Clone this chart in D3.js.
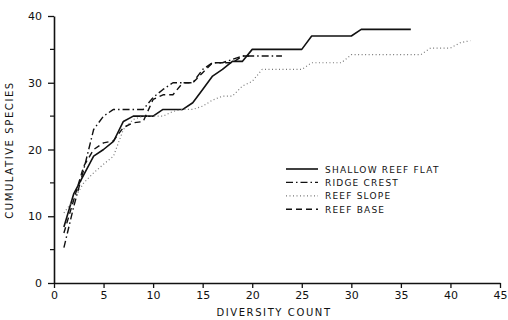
<!DOCTYPE html>
<html><head><meta charset="utf-8">
<script src="https://cdn.jsdelivr.net/npm/d3@7"></script>
<style>
html,body{margin:0;padding:0;background:#fff;}
text{font-family:"DejaVu Sans",sans-serif;fill:#111;}
</style></head>
<body><svg id="c" width="508" height="320"></svg>
<script>
// Data (x = diversity count 1..n)
const shallowReefFlat = [8.4,13.4,16.2,19,20,21.2,24.2,25,25,25,26,26,26,27,29,31,32,33.2,33.2,35,35,35,35,35,35,37,37,37,37,37,38,38,38,38,38,38];
const ridgeCrest = [5.3,11.5,17,23,25,26,26,26,26,27.8,29,30,30,30,32,33,33,33.5,34,34,34,34,34];
const reefSlope = [10.5,12.5,15,16.5,17.8,19,23,24.5,25,25,25,25.7,26,26,26.5,27.4,28,28,29.5,30.2,32,32,32,32,32,33,33,33,33,34.2,34.2,34.2,34.2,34.2,34.2,34.2,34.2,35.2,35.2,35.2,36,36.3];
const reefBase = [7.5,12.5,17.5,20,21,21.3,23.3,24,24.2,27.5,28.2,28.2,30,30,31.5,33,33,33,34,34];
const seriesNames = ["SHALLOW REEF FLAT","RIDGE CREST","REEF SLOPE","REEF BASE"];
const xTicks = [0,5,10,15,20,25,30,35,40,45];
const yTicks = [0,10,20,30,40];
const yMinorTicks = [5,15,25,35];

const svg = d3.select("#c");
const x = d3.scaleLinear().domain([0,45]).range([54,500]);
const y = d3.scaleLinear().domain([0,40]).range([283,16]);

const styles = [
  {dash:null, width:1.6, color:"#111"},
  {dash:"7,3,1.5,3", width:1.4, color:"#111"},
  {dash:"1,2.5", width:1.2, color:"#777"},
  {dash:"6,4", width:1.4, color:"#111"}
];
const allSeries = [shallowReefFlat, ridgeCrest, reefSlope, reefBase];

// axes
const xAxis = d3.axisBottom(x).tickValues(xTicks).tickSize(5).tickPadding(3).tickSizeOuter(0);
const gx = svg.append("g").attr("transform","translate(0,283)").call(xAxis);
gx.select(".domain").attr("stroke","#111").attr("stroke-width",1.6);
gx.selectAll(".tick line").attr("stroke","#111").attr("stroke-width",1.3);
gx.selectAll(".tick text").attr("font-size",11).attr("fill","#111").style("font-family","DejaVu Sans");

const yAxis = d3.axisLeft(y).tickValues(yTicks).tickSize(6).tickPadding(6).tickSizeOuter(0);
const gy = svg.append("g").attr("transform","translate(54,0)").call(yAxis);
gy.select(".domain").attr("stroke","#111").attr("stroke-width",1.6);
gy.selectAll(".tick line").attr("stroke","#111").attr("stroke-width",1.3);
gy.selectAll(".tick text").attr("font-size",11).attr("fill","#111").style("font-family","DejaVu Sans");

svg.append("g").selectAll("line").data(yMinorTicks).join("line")
  .attr("x1",50).attr("x2",54).attr("y1",d=>y(d)).attr("y2",d=>y(d))
  .attr("stroke","#111").attr("stroke-width",1.2);

// axis titles
svg.append("text").attr("x",274).attr("y",316).attr("text-anchor","middle")
  .attr("font-size",10).attr("letter-spacing",1.6).text("DIVERSITY COUNT");
svg.append("text").attr("transform","translate(13,150) rotate(-90)").attr("text-anchor","middle")
  .attr("font-size",10).attr("letter-spacing",1.6).text("CUMULATIVE SPECIES");

// lines
const line = d3.line().x((d,i)=>x(i+1)).y(d=>y(d));
allSeries.forEach((s,k)=>{
  svg.append("path").datum(s).attr("d",line).attr("fill","none")
    .attr("stroke",styles[k].color).attr("stroke-width",styles[k].width)
    .attr("stroke-dasharray",styles[k].dash).attr("stroke-linejoin","round");
});

// legend
const lg = svg.append("g");
seriesNames.forEach((n,k)=>{
  const yy = 169 + k*13.4;
  lg.append("line").attr("x1",286).attr("x2",318).attr("y1",yy).attr("y2",yy)
    .attr("stroke",styles[k].color).attr("stroke-width",styles[k].width)
    .attr("stroke-dasharray",styles[k].dash);
  lg.append("text").attr("x",325).attr("y",yy+3.5).attr("font-size",9)
    .attr("letter-spacing",1.2).text(n);
});
</script></body></html>
